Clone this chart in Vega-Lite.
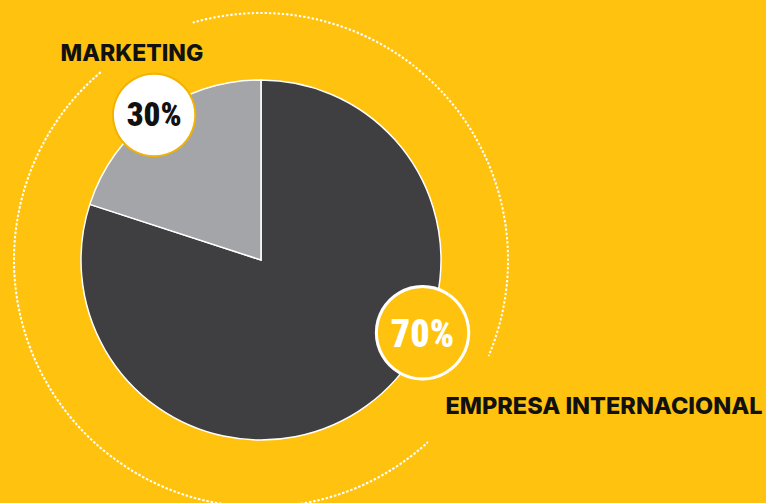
{
  "$schema": "https://vega.github.io/schema/vega-lite/v6.json",
  "width": 522,
  "height": 486,
  "autosize": {"type": "none"},
  "padding": {"left": 0, "top": 17, "right": 244, "bottom": 0},
  "background": "#FEC20F",
  "config": {"view": {"stroke": null}},
  "datasets": {
    "shares": [
      {"segment": "EMPRESA INTERNACIONAL", "share": 80, "label": "70%"},
      {"segment": "MARKETING", "share": 20, "label": "30%"}
    ]
  },
  "data": {"name": "shares"},
  "layer": [
    {
      "data": {"values": [{"ring": "upper"}]},
      "mark": {"type": "arc", "theta": -0.28, "theta2": 1.97, "radius": 247, "radius2": 247, "filled": false, "stroke": "white", "strokeWidth": 2, "strokeDash": [2, 2.3], "strokeDashOffset": -0.05},
      "encoding": {}
    },
    {
      "data": {"values": [{"ring": "lower"}]},
      "mark": {"type": "arc", "theta": 2.40, "theta2": 5.58, "radius": 247, "radius2": 247, "filled": false, "stroke": "white", "strokeWidth": 2, "strokeDash": [2, 2.3], "strokeDashOffset": 0.29},
      "encoding": {}
    },
    {
      "transform": [{"stack": "share", "groupby": [], "sort": [{"field": "segment", "order": "ascending"}], "as": ["a0", "a1"]}],
      "mark": {"type": "arc", "radius": 180, "stroke": "white", "strokeWidth": 1.5},
      "encoding": {
        "theta": {"field": "a0", "type": "quantitative", "scale": {"domain": [0, 100]}},
        "theta2": {"field": "a1"},
        "color": {"field": "segment", "type": "nominal", "scale": {"domain": ["EMPRESA INTERNACIONAL", "MARKETING"], "range": ["#3F3F41", "#A4A5A9"]}, "legend": null}
      }
    },
    {
      "transform": [
        {"stack": "share", "groupby": [], "sort": [{"field": "segment", "order": "ascending"}], "as": ["a0", "a1"]},
        {"filter": "datum.segment == 'MARKETING'"}
      ],
      "mark": {"type": "text", "text": "●", "font": "DejaVu Sans", "fontSize": 108, "fill": "white", "stroke": "#F2B200", "strokeWidth": 2, "radius": 180, "thetaOffset": 0.621, "align": "center", "baseline": "middle", "dy": -4},
      "encoding": {"theta": {"field": "a0", "type": "quantitative", "scale": {"domain": [0, 100]}}}
    },
    {
      "transform": [
        {"stack": "share", "groupby": [], "sort": [{"field": "segment", "order": "ascending"}], "as": ["a0", "a1"]},
        {"filter": "datum.segment == 'MARKETING'"}
      ],
      "mark": {"type": "text", "font": "Roboto Condensed, Roboto, sans-serif", "fontWeight": 900, "fontSize": 33, "fill": "#111111", "radius": 180, "thetaOffset": 0.621, "align": "center", "baseline": "middle", "dy": 1},
      "encoding": {
        "theta": {"field": "a0", "type": "quantitative", "scale": {"domain": [0, 100]}},
        "text": {"field": "label"}
      }
    },
    {
      "transform": [
        {"stack": "share", "groupby": [], "sort": [{"field": "segment", "order": "ascending"}], "as": ["a0", "a1"]},
        {"filter": "datum.segment == 'EMPRESA INTERNACIONAL'"}
      ],
      "mark": {"type": "text", "text": "●", "font": "DejaVu Sans", "fontSize": 121, "fill": "#FEC20F", "stroke": "white", "strokeWidth": 3, "radius": 177, "thetaOffset": 1.993, "align": "center", "baseline": "middle", "dy": -5},
      "encoding": {"theta": {"field": "a0", "type": "quantitative", "scale": {"domain": [0, 100]}}}
    },
    {
      "transform": [
        {"stack": "share", "groupby": [], "sort": [{"field": "segment", "order": "ascending"}], "as": ["a0", "a1"]},
        {"filter": "datum.segment == 'EMPRESA INTERNACIONAL'"}
      ],
      "mark": {"type": "text", "font": "Roboto Condensed, Roboto, sans-serif", "fontWeight": 900, "fontSize": 38, "fill": "white", "radius": 177, "thetaOffset": 1.993, "align": "center", "baseline": "middle", "dy": 3},
      "encoding": {
        "theta": {"field": "a0", "type": "quantitative", "scale": {"domain": [0, 100]}},
        "text": {"field": "label"}
      }
    },
    {
      "transform": [
        {"stack": "share", "groupby": [], "sort": [{"field": "segment", "order": "ascending"}], "as": ["a0", "a1"]},
        {"filter": "datum.segment == 'MARKETING'"}
      ],
      "mark": {"type": "text", "font": "Inter", "fontWeight": 800, "fontSize": 23, "fill": "#111111", "radius": 244, "thetaOffset": 0.699, "align": "center", "baseline": "middle", "dy": 1},
      "encoding": {
        "theta": {"field": "a0", "type": "quantitative", "scale": {"domain": [0, 100]}},
        "text": {"field": "segment"}
      }
    },
    {
      "transform": [
        {"stack": "share", "groupby": [], "sort": [{"field": "segment", "order": "ascending"}], "as": ["a0", "a1"]},
        {"filter": "datum.segment == 'EMPRESA INTERNACIONAL'"}
      ],
      "mark": {"type": "text", "font": "Inter", "fontWeight": 800, "fontSize": 23.5, "fill": "#111111", "radius": 372.6, "thetaOffset": 1.972, "align": "center", "baseline": "middle", "dy": 1},
      "encoding": {
        "theta": {"field": "a0", "type": "quantitative", "scale": {"domain": [0, 100]}},
        "text": {"field": "segment"}
      }
    }
  ]
}
